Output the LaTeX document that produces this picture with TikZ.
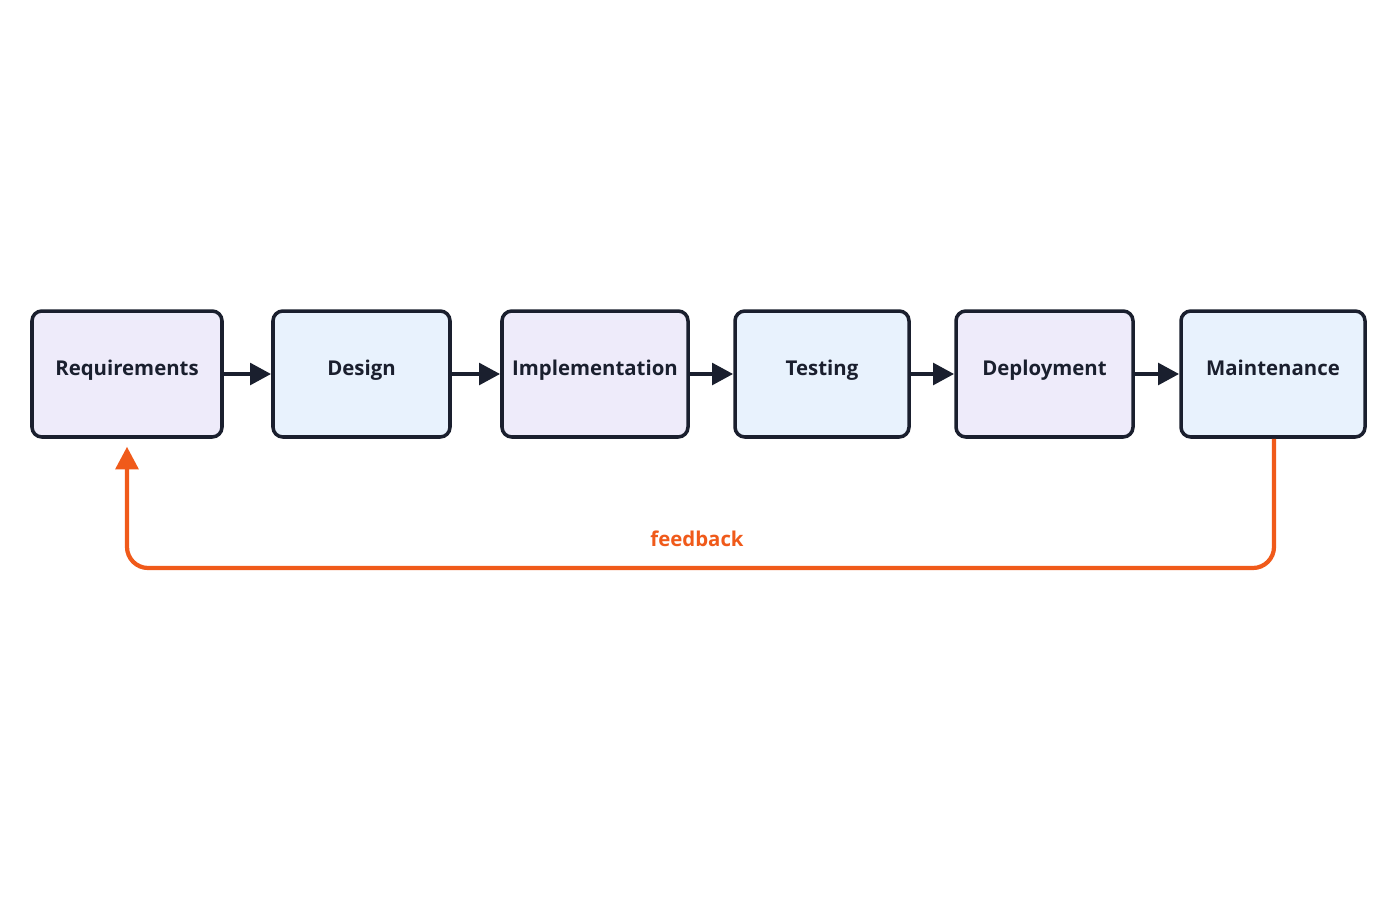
\documentclass[tikz,border=0pt]{standalone}
\usepackage{fontspec}
\setmainfont{Open Sans}
\usetikzlibrary{arrows.meta}
\definecolor{lavender}{HTML}{EEEBFA}
\definecolor{skyblue}{HTML}{E8F2FD}
\definecolor{edgeink}{HTML}{1A1F2E}
\definecolor{fborange}{HTML}{F05A1A}
\tikzset{
  stage/.style={draw=edgeink, line width=5pt, rounded corners=14pt, minimum height=6.3cm,
    font=\fontsize{29}{34}\selectfont\bfseries, text=edgeink, text height=0.75em, text depth=0.25em},
  flow/.style={-{Triangle[length=30pt,width=30pt]}, line width=7pt, draw=edgeink},
}
\begin{document}
\begin{tikzpicture}[x=0.05cm,y=-0.05cm]
    \useasboundingbox[fill=white] (0,0) rectangle (1400,900);

    % Define stages: name/label/left/right/fill
    \def\stages{%
      req/Requirements/32/222/lavender,%
      des/Design/273/450/skyblue,%
      imp/Implementation/502/688/lavender,%
      tst/Testing/735/909/skyblue,%
      dep/Deployment/956/1133/lavender,%
      mnt/Maintenance/1181/1365/skyblue%
    }

    % Draw stage boxes
    \foreach \name/\label/\xl/\xr/\col in \stages {
        \pgfmathsetmacro\w{(\xr-\xl)*0.05}
        \node[stage, fill=\col, minimum width=\w cm] (\name) at ({(\xl+\xr)/2}, 374) {\label};
    }

    % Draw arrows between stages
    \foreach \a/\b in {req/des, des/imp, imp/tst, tst/dep, dep/mnt} {
        \draw[flow] (\a) -- (\b);
    }

    % Feedback loop
    \coordinate (fb) at (1274,568);
    \draw[fborange, line width=6pt, rounded corners=30pt, -{Triangle[length=32pt,width=32pt]}]
        (mnt.south -| fb) -- (fb) -- (fb -| req) -- ([yshift=-0.4cm]req.south);
    \node[text=fborange, font=\fontsize{29}{34}\selectfont\bfseries] (fblabel) at (697,539) {feedback};
\end{tikzpicture}
\end{document}
